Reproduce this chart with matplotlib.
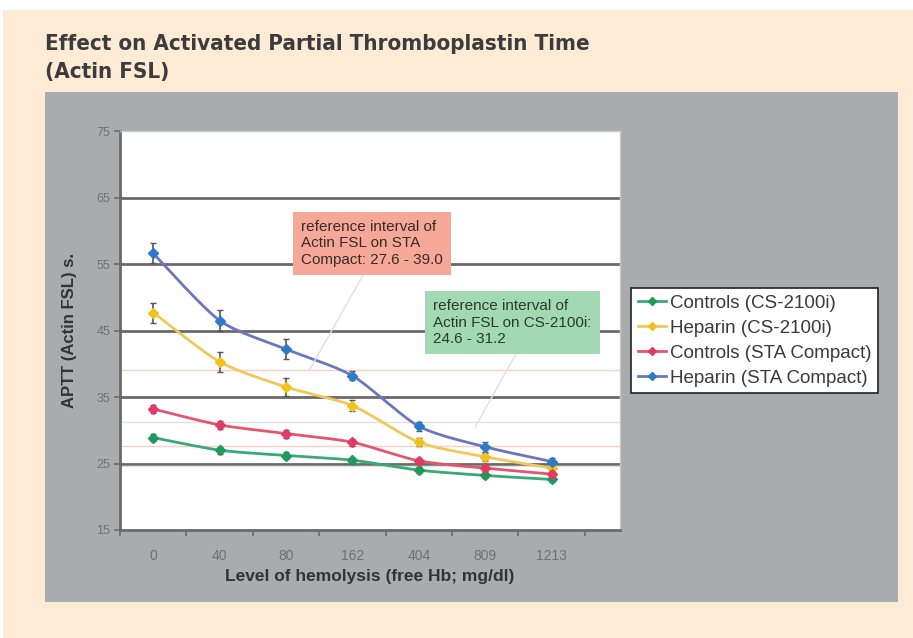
import numpy as np
import matplotlib
matplotlib.use("Agg")
import matplotlib.pyplot as plt
from matplotlib import font_manager as fm
from matplotlib.patches import Rectangle

# ---- data ----
categories = ["0", "40", "80", "162", "404", "809", "1213"]
controls_cs = [28.9, 27.0, 26.2, 25.5, 24.0, 23.2, 22.6]
heparin_cs = [47.7, 40.3, 36.5, 33.7, 28.2, 26.0, 24.3]
controls_sta = [33.2, 30.8, 29.5, 28.2, 25.4, 24.3, 23.4]
heparin_sta = [56.6, 46.5, 42.2, 38.2, 30.6, 27.5, 25.3]
err_controls_cs = [0.5, 0.5, 0.5, 0.4, 0.4, 0.4, 0.4]
err_heparin_cs = [1.5, 1.5, 1.3, 0.8, 0.6, 0.6, 0.5]
err_controls_sta = [0.6, 0.6, 0.6, 0.5, 0.4, 0.5, 0.4]
err_heparin_sta = [1.5, 1.6, 1.5, 0.7, 0.7, 0.7, 0.5]
series_names = ["Controls (CS-2100i)", "Heparin (CS-2100i)",
                "Controls (STA Compact)", "Heparin (STA Compact)"]
ref_sta = [27.6, 39.0]
ref_cs = [24.6, 31.2]
yticks = [15, 25, 35, 45, 55, 65, 75]

avail = {f.name for f in fm.fontManager.ttflist}
arial = "Liberation Sans" if "Liberation Sans" in avail else "DejaVu Sans"
narrow = "Liberation Sans Narrow" if "Liberation Sans Narrow" in avail else "DejaVu Sans"

def smooth(xs, ys, n=30, k=8.0):
    P = np.column_stack([xs, ys]).astype(float)
    out = []
    m = len(P)
    for i in range(m - 1):
        p0 = P[i - 1] if i > 0 else P[i]
        p1 = P[i]
        p2 = P[i + 1]
        p3 = P[i + 2] if i + 2 < m else P[i + 1]
        c1 = p1 + (p2 - p0) / k
        c2 = p2 - (p3 - p1) / k
        t = np.linspace(0, 1, n)[:, None]
        seg = ((1 - t) ** 3) * p1 + 3 * ((1 - t) ** 2) * t * c1 + 3 * (1 - t) * t ** 2 * c2 + t ** 3 * p2
        out.append(seg if i == 0 else seg[1:])
    S = np.vstack(out)
    return S[:, 0], S[:, 1]

fig = plt.figure(figsize=(9.13, 6.38), dpi=100)
fig.patch.set_facecolor("white")

bg = fig.add_axes([0, 0, 1, 1], zorder=-10)
bg.set_xlim(0, 913)
bg.set_ylim(638, 0)
bg.axis("off")
bg.add_patch(Rectangle((3, 10), 913, 628, facecolor="#fdebd6", edgecolor="none"))
bg.add_patch(Rectangle((45, 92), 898 - 45, 602 - 92, facecolor="#a9acae", edgecolor="none"))

fig.text(45 / 913, 1 - 44 / 638, "Effect on Activated Partial Thromboplastin Time",
         fontsize=16, fontweight="bold", color="#3c3c3c", family=narrow,
         stretch="condensed", va="center")
fig.text(45 / 913, 1 - 72 / 638, "(Actin FSL)",
         fontsize=16, fontweight="bold", color="#3c3c3c", family=narrow,
         stretch="condensed", va="center")

ax = fig.add_axes([120 / 913, 1 - 530 / 638, (620 - 120) / 913, (530 - 131) / 638])
ax.set_facecolor("white")
x = np.arange(len(categories))
ax.set_xlim(-0.5, 7.03)
ax.set_ylim(15, 75)

for v in yticks[1:-1]:
    ax.axhline(v, color="#6a6a6a", lw=2.0, zorder=1)
for v in ref_sta:
    ax.axhline(v, color="#f6cfc6", lw=1.0, zorder=1)
for v in ref_cs:
    ax.axhline(v, color="#dde3dd", lw=1.0, zorder=1)

series = [controls_cs, heparin_cs, controls_sta, heparin_sta]
errs = [err_controls_cs, err_heparin_cs, err_controls_sta, err_heparin_sta]
line_colors = ["#3aa878", "#f0c85a", "#e2566e", "#6c76bc"]
marker_colors = ["#1f9a5a", "#f2c21c", "#e23a64", "#2a7cc6"]
handles = []
for ys, es, lc, mc, name in zip(series, errs, line_colors, marker_colors, series_names):
    sx, sy = smooth(x, ys)
    ax.plot(sx, sy, color=lc, lw=2.0, zorder=3)
    ax.errorbar(x, ys, yerr=es, fmt="none", ecolor="#555555", elinewidth=1.2,
                capsize=2, capthick=1.0, zorder=4)
    ax.plot(x, ys, ls="none", marker="D", ms=5.5, color=mc, zorder=5)
    h, = ax.plot([], [], color=lc, lw=2, marker="D", ms=4.5, mfc=mc, mec=mc)
    handles.append((h, name))

for s in ["top", "right"]:
    ax.spines[s].set_color("#c8c8c8")
    ax.spines[s].set_linewidth(1.0)
for s in ["left", "bottom"]:
    ax.spines[s].set_color("#6a6a6a")
    ax.spines[s].set_linewidth(2.0)

ax.set_yticks(yticks)
ax.set_yticklabels([str(v) for v in yticks], fontsize=9, color="#707070", family=arial)
ax.tick_params(axis="y", direction="out", length=4, width=1.2, color="#6a6a6a", pad=3)
ax.set_xticks(np.arange(-0.5, 6.6, 1.0))
ax.set_xticklabels([])
ax.set_xticks(x, minor=True)
ax.set_xticklabels(categories, minor=True, fontsize=10, color="#707070", family=arial)
ax.tick_params(axis="x", which="major", direction="out", length=4, width=1.2, color="#6a6a6a")
ax.tick_params(axis="x", which="minor", length=0, pad=14)

ax.set_xlabel("Level of hemolysis (free Hb; mg/dl)", fontsize=12.5, fontweight="bold",
              color="#333333", family=arial, labelpad=4)
ax.set_ylabel("APTT (Actin FSL) s.", fontsize=12, fontweight="bold",
              color="#333333", family=arial, labelpad=14)

ax.annotate("reference interval of\nActin FSL on STA\nCompact: 27.6 - 39.0",
            xy=(2.35, ref_sta[1]), xytext=(2.23, 58.1), textcoords="data",
            fontsize=11, color="#3a2a2a", family=arial, va="center", ha="left",
            linespacing=1.2,
            bbox=dict(boxstyle="square,pad=0.55", fc="#f5a898", ec="none"),
            arrowprops=dict(arrowstyle="-", color="#e0e0e0", lw=1.0,
                            shrinkA=0, shrinkB=0, relpos=(0.47, 0.0)), zorder=6)
ax.annotate("reference interval of\nActin FSL on CS-2100i:\n24.6 - 31.2",
            xy=(4.85, 30.5), xytext=(4.22, 46.2), textcoords="data",
            fontsize=11, color="#2a3a2a", family=arial, va="center", ha="left",
            linespacing=1.2,
            bbox=dict(boxstyle="square,pad=0.55", fc="#a2d9b2", ec="none"),
            arrowprops=dict(arrowstyle="-", color="#e0e0e0", lw=1.0,
                            shrinkA=0, shrinkB=0, relpos=(0.55, 0.0)), zorder=6)

leg = fig.legend([h for h, _ in handles], [n for _, n in handles],
                 loc="upper left", bbox_to_anchor=(631 / 913, 1 - 288 / 638),
                 borderaxespad=0, frameon=True, fancybox=False, handlelength=1.5,
                 handletextpad=0.25, borderpad=0.35, labelspacing=0.42,
                 prop={"family": arial, "size": 13.5}, framealpha=1)
leg.get_frame().set_facecolor("white")
leg.get_frame().set_edgecolor("#222222")
leg.get_frame().set_linewidth(1.2)
for t in leg.get_texts():
    t.set_color("#3a3a3a")

fig.savefig("out.png", dpi=100, facecolor=fig.get_facecolor())
